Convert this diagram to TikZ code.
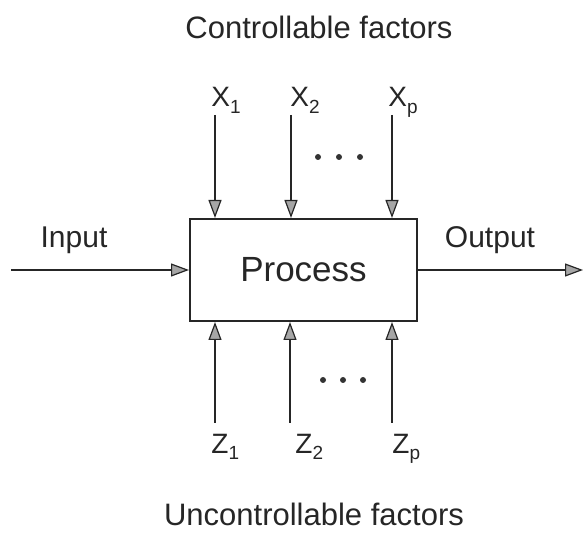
\documentclass[tikz,border=0pt]{standalone}
\usepackage{fontspec}
\setmainfont{Liberation Sans}
\usetikzlibrary{arrows.meta}
\newcommand{\sublbl}[2]{#1{\fontsize{9.5}{10}\selectfont\raisebox{-0.6ex}{#2}}}
\begin{document}
\begin{tikzpicture}[x=0.5pt,y=-0.5pt,
  conn/.style={line width=0.9pt,draw=black!85,
    -{Triangle[length=9pt,width=6.5pt,fill=black!35,line width=0.6pt]}},
  ttl/.style={font=\fontsize{15.5}{18}\selectfont,text=black!85,inner sep=0pt},
  sidelbl/.style={font=\fontsize{15}{18}\selectfont,text=black!85,inner sep=0pt},
  varlbl/.style={font=\fontsize{14}{16}\selectfont,text=black!85,inner sep=0pt,anchor=base west},
  procbox/.style={draw=black!85,line width=1pt,minimum width=113.5pt,minimum height=51pt,inner sep=0pt,
    font=\fontsize{17.5}{20}\selectfont,text=black!85}]
\useasboundingbox (0,0) rectangle (588,533);
\node[procbox] (box) at (303.5,270) {Process};
\node[ttl] (ctl) at (319,27) {Controllable factors};
\node[ttl] (unc) at (314,514) {Uncontrollable factors};
\node[sidelbl] (inl) at (74,240) {Input};
\node[sidelbl] (outl) at (490,240) {Output};
\coordinate (inS) at (11,270);
\coordinate (outE) at (583,270);
\draw[conn] (inS) -- (box.west |- inS);
\draw[conn] (box.east |- outE) -- (outE);
% top inputs
\coordinate (t1) at (215,115);
\coordinate (t2) at (291,115);
\coordinate (t3) at (392,115);
\draw[conn] (t1) -- (t1 |- box.north);
\draw[conn] (t2) -- (t2 |- box.north);
\draw[conn] (t3) -- (t3 |- box.north);
\node[varlbl] (x1) at (211,107) {\sublbl{X}{1}};
\node[varlbl] (x2) at (290,107) {\sublbl{X}{2}};
\node[varlbl] (xp) at (388,107) {\sublbl{X}{p}};
% bottom inputs
\coordinate (b1) at (215,423);
\coordinate (b2) at (290,423);
\coordinate (b3) at (392,423);
\draw[conn] (b1) -- (b1 |- box.south);
\draw[conn] (b2) -- (b2 |- box.south);
\draw[conn] (b3) -- (b3 |- box.south);
\node[varlbl] (z1) at (211,453) {\sublbl{Z}{1}};
\node[varlbl] (z2) at (295,453) {\sublbl{Z}{2}};
\node[varlbl] (zp) at (392,453) {\sublbl{Z}{p}};
% dots
\foreach \x in {318,339,360} \fill[black!80] (\x,157) circle (3);
\foreach \x in {323,343,363} \fill[black!80] (\x,380) circle (3);
\end{tikzpicture}
\end{document}
